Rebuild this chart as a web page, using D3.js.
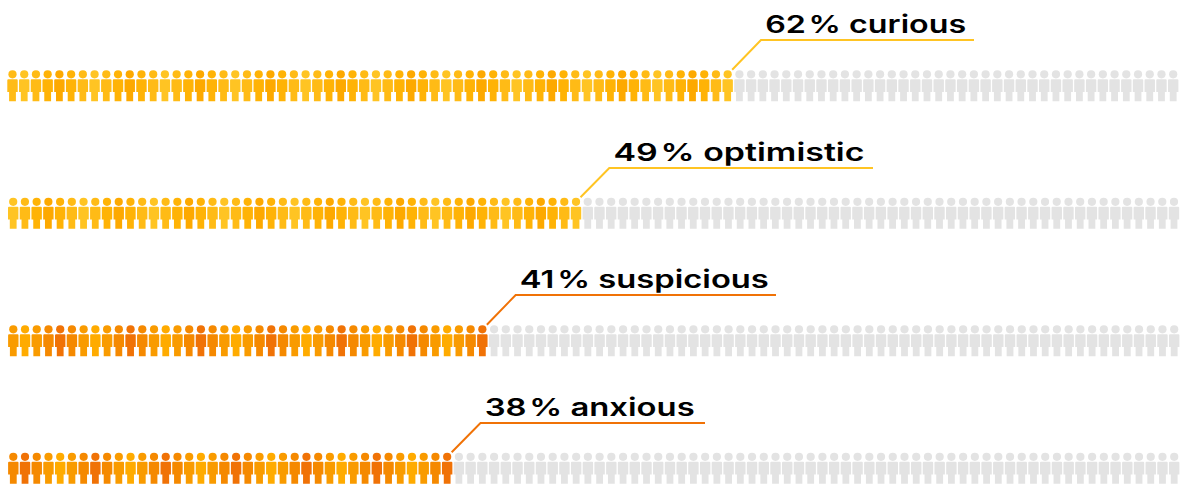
<!DOCTYPE html>
<html>
<head>
<meta charset="utf-8">
<style>html,body{margin:0;padding:0;background:#fff}svg{display:block}</style>
<script src="https://cdn.jsdelivr.net/npm/d3@7"></script>
</head>
<body>
<svg id="c" width="1190" height="485"></svg>
<script>
const labels = ["curious", "optimistic", "suspicious", "anxious"];
const values = [62, 49, 41, 38];
const total = 100;
// shade index of each coloured figure, read left to right from the picture
const shadesCurious = [1,0,1,2,3,2,1,0,1,2,3,2,1,0,1,2,3,2,1,0,1,2,3,2,1,0,1,2,3,2,1,0,1,2,3,2,1,0,1,2,3,2,1,0,1,2,3,2,1,0,1,2,3,2,1,0,1,2,3,2,1,0];
const shadesOptimistic = [0,1,2,3,2,1,0,1,2,3,2,1,0,1,2,3,2,1,0,1,2,3,2,1,0,1,2,3,2,1,0,1,2,3,2,1,0,1,2,3,2,1,0,1,2,3,2,1,0];
const shadesSuspicious = [1,0,1,2,3,2,1,0,1,2,3,2,1,0,1,2,3,2,1,0,1,2,3,2,1,0,1,2,3,2,1,0,1,2,3,2,1,0,1,2,3];
const shadesAnxious = [2,3,2,1,0,1,2,3,2,1,0,1,2,3,2,1,0,1,2,3,2,1,0,1,2,3,2,1,0,1,2,3,2,1,0,1,2,3];
const yellows = ["#FFC423","#FFBB16","#FFB306","#FDA900"];
const oranges = ["#FFAB00","#F99B00","#F58900","#F07206"];
const grey = "#E3E3E3";

const rowShades = [shadesCurious, shadesOptimistic, shadesSuspicious, shadesAnxious];
const rowPalettes = [yellows, yellows, oranges, oranges];
const rowLineColors = ["#FFC423","#FFC423","#F07206","#F07206"];
const rowStart = [12.5, 13.2, 13.3, 13.3];
const rowEnd = [1173.2, 1174, 1174.2, 1174.2];
const labelWidths = [201, 251, 249, 210];
const lineEnds = [974, 873, 776, 705];

const svg = d3.select("#c");
const rowY = d3.scaleLinear().domain([0, 3]).range([74.3, 456.8]);
const personPath = "M-4.2,5 H4.2 Q5.2,5 5.2,6 V17.8 H3.4 V27 H-3.4 V17.8 H-5.2 V6 Q-5.2,5 -4.2,5 Z";

labels.forEach((label, r) => {
  const x = d3.scaleLinear().domain([0, total - 1]).range([rowStart[r], rowEnd[r]]);
  const y = rowY(r);
  const n = values[r];
  const shade = rowShades[r];
  const g = svg.append("g");
  const people = g.selectAll("g").data(d3.range(total)).join("g")
    .attr("transform", i => `translate(${x(i)},${y})`)
    .attr("fill", i => i < n ? rowPalettes[r][shade[i]] : grey);
  people.append("circle").attr("r", 4.1);
  people.append("path").attr("d", personPath);

  const x0 = x(n - 1) + 4.5, y0 = y - 4.5;
  const kneeY = Math.round(y - 34);
  const kneeX = x0 + 28.8;
  g.append("path")
    .attr("d", d3.line()([[x0, y0], [kneeX, kneeY], [lineEnds[r], kneeY]]))
    .attr("fill", "none").attr("stroke", rowLineColors[r]).attr("stroke-width", 2);

  g.append("text")
    .attr("x", kneeX + 4.2).attr("y", kneeY - 7.5)
    .attr("font-family", "Inter, sans-serif").attr("font-size", 24.5).attr("font-weight", 600)
    .attr("fill", "#000")
    .attr("textLength", labelWidths[r]).attr("lengthAdjust", "spacingAndGlyphs")
    .text(`${n}\u200A% ${label}`);
});
</script>
</body>
</html>
